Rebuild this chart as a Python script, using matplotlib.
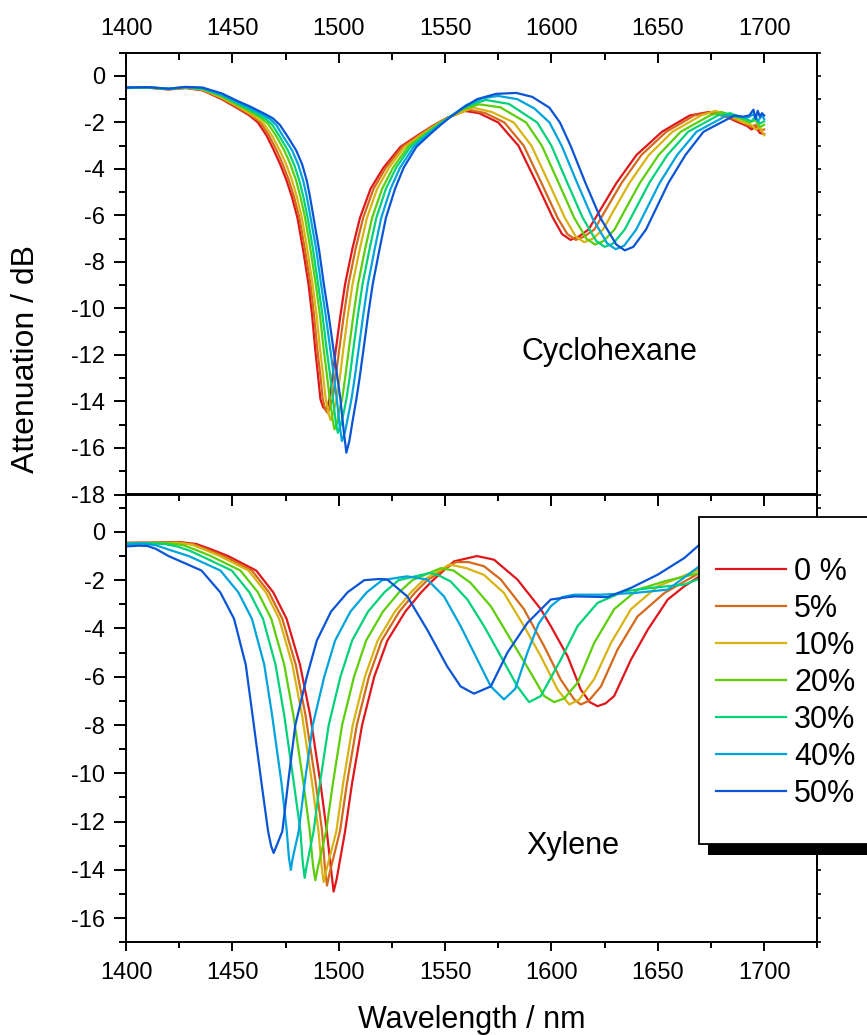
import matplotlib
matplotlib.use("Agg")
import matplotlib.pyplot as plt
from matplotlib.ticker import MultipleLocator
from matplotlib.lines import Line2D
from matplotlib.patches import Rectangle

plt.rcParams['font.family'] = ['Liberation Sans', 'DejaVu Sans']
plt.rcParams['axes.unicode_minus'] = False

labels = ['0 %', '5%', '10%', '20%', '30%', '40%', '50%']
colors = ['#e0161b', '#d4691c', '#d8b412', '#5ccf0a', '#00d27a', '#00a4dc', '#0a55d6']

# Cyclohexane panel: (wavelength nm, attenuation dB)
cyc_0 = [(1400,-0.52),(1410,-0.50),(1420,-0.58),(1428,-0.52),(1436,-0.62),(1445,-1.0),(1453,-1.42),(1458,-1.7),
         (1462,-2.0),(1466,-2.55),(1469.5,-3.2),(1472.5,-3.8),(1475.5,-4.5),(1478,-5.2),(1480.6,-6.1),(1483.3,-7.5),
         (1485.8,-8.95),(1487.5,-10.3),(1489,-11.8),(1490.3,-12.9),(1491.4,-13.9),
         (1492.7,-14.25),(1493.8,-14.35),(1494.8,-14.2),
         (1495.6,-13.9),(1497,-13.0),(1498.6,-11.8),(1500.8,-10.3),(1503,-8.95),(1506.5,-7.4),(1510,-6.1),(1515,-4.85),
         (1521,-3.95),(1529,-3.05),(1538,-2.5),(1545,-2.1),(1551,-1.8),
         (1559,-1.5),(1566,-1.6),
         (1575,-2.0),(1584.5,-3.0),(1593,-4.6),(1600.7,-6.1),
         (1605,-6.8),(1609,-7.05),(1613,-6.9),
         (1617.5,-6.6),(1622.7,-5.8),(1630.6,-4.6),(1640,-3.4),(1652,-2.4),(1665,-1.7),
         (1674,-1.55),(1682,-1.75),(1688,-2.0),(1692,-2.15),(1694,-2.3),(1696,-2.2),(1698,-2.45),(1700,-2.5)]

cyc_5 = [(1400,-0.52),(1410,-0.50),(1420,-0.57),(1428,-0.51),(1436,-0.60),(1445,-0.97),(1453,-1.38),(1458,-1.65),
         (1463.2,-2.0),(1467.1,-2.55),(1470.8,-3.2),(1473.7,-3.8),(1476.6,-4.5),(1479.0,-5.2),(1481.5,-6.1),(1484.2,-7.5),
         (1486.7,-8.95),(1488.4,-10.3),(1490.0,-11.8),(1491.4,-12.9),(1492.5,-13.9),
         (1493.7,-14.35),(1494.8,-14.5),(1496.0,-14.2),
         (1497.1,-13.9),(1498.5,-13.0),(1500.2,-11.8),(1502.4,-10.3),(1504.6,-8.95),(1508.0,-7.4),(1511.5,-6.1),
         (1516.4,-4.85),(1522.1,-3.95),(1529.9,-3.05),(1538.6,-2.5),(1545.4,-2.1),(1551.1,-1.8),
         (1561,-1.45),(1569,-1.6),
         (1577.9,-2.0),(1587.0,-3.0),(1595.3,-4.6),(1602.9,-6.1),
         (1607.5,-6.8),(1611.5,-7.05),(1615.5,-6.9),
         (1620.2,-6.6),(1625.3,-5.8),(1633.0,-4.6),(1642.3,-3.4),(1654.0,-2.4),(1667.1,-1.7),
         (1676,-1.55),(1684,-1.8),(1690,-2.0),(1694,-2.2),(1696,-2.1),(1698,-2.35),(1700,-2.3)]

cyc_10 = [(1400,-0.51),(1410,-0.49),(1420,-0.57),(1428,-0.50),(1436,-0.59),(1445,-0.93),(1453,-1.33),(1458,-1.6),
          (1461.5,-1.8),(1464.7,-2.05),(1468.5,-2.55),(1472.3,-3.2),(1475.3,-3.8),(1478.1,-4.5),(1480.3,-5.2),(1482.7,-6.1),(1485.3,-7.5),
          (1487.7,-8.95),(1489.6,-10.3),(1491.3,-11.8),(1492.7,-12.9),(1493.9,-13.9),
          (1495.2,-14.5),(1496.2,-14.8),(1497.4,-14.5),
          (1499.0,-13.9),(1500.5,-13.0),(1502.1,-11.8),(1504.3,-10.3),(1506.5,-8.95),(1510.0,-7.4),(1513.3,-6.1),
          (1518.1,-4.85),(1523.6,-3.95),(1531.0,-3.05),(1539.4,-2.5),(1545.8,-2.1),(1551.3,-1.8),
          (1563,-1.36),(1572,-1.55),
          (1582.3,-2.0),(1590.6,-3.0),(1598.8,-4.6),(1606.3,-6.1),
          (1611.4,-6.9),(1615.4,-7.15),(1619.4,-7.0),
          (1624.3,-6.6),(1629.2,-5.8),(1636.7,-4.6),(1645.8,-3.4),(1656.9,-2.4),(1670.3,-1.7),
          (1677,-1.5),(1684,-1.7),(1690,-2.0),(1694,-2.1),(1696,-2.3),(1698,-2.2),(1700,-2.55)]

cyc_20 = [(1400,-0.51),(1410,-0.49),(1420,-0.56),(1428,-0.49),(1436,-0.56),(1445,-0.88),(1453,-1.27),(1458,-1.51),
          (1462.5,-1.75),(1466.7,-2.05),(1470.4,-2.55),(1474.4,-3.2),(1477.3,-3.8),(1480.0,-4.5),(1482.0,-5.2),(1484.2,-6.1),(1486.8,-7.5),
          (1489.2,-8.95),(1491.2,-10.3),(1493.0,-11.8),(1494.5,-12.9),(1495.8,-13.9),
          (1497.0,-14.7),(1498.0,-15.2),(1499.3,-14.9),(1500.5,-14.3),
          (1501.6,-13.9),(1503.0,-13.0),(1504.7,-11.8),(1506.9,-10.3),(1509.1,-8.95),(1512.5,-7.4),(1515.7,-6.1),
          (1520.4,-4.85),(1525.5,-3.95),(1532.5,-3.05),(1540.4,-2.5),(1546.4,-2.1),(1551.5,-1.8),
          (1558,-1.45),(1566,-1.22),(1576,-1.35),
          (1588.1,-2.0),(1595.5,-3.0),(1603.4,-4.6),(1610.7,-6.1),
          (1616.5,-7.0),(1620.5,-7.25),(1624.5,-7.1),
          (1629.7,-6.6),(1634.4,-5.8),(1641.6,-4.6),(1650.4,-3.4),(1660.8,-2.4),(1674.5,-1.7),
          (1680,-1.55),(1688,-1.8),(1693,-2.0),(1696,-1.9),(1698,-2.2),(1700,-2.1)]

cyc_30 = [(1400,-0.50),(1410,-0.49),(1420,-0.56),(1428,-0.49),(1436,-0.55),(1445,-0.84),(1453,-1.22),(1458,-1.45),(1463,-1.7),
          (1466,-1.87),(1468.8,-2.1),(1471.9,-2.55),(1476.1,-3.2),(1479.0,-3.8),(1481.5,-4.5),(1483.4,-5.2),(1485.4,-6.1),(1488.0,-7.5),
          (1490.3,-8.95),(1492.4,-10.3),(1494.4,-11.8),(1496.0,-12.9),(1497.3,-13.9),
          (1498.5,-14.8),(1499.6,-15.35),(1501.0,-15.0),(1502.3,-14.5),
          (1503.6,-13.9),(1505.1,-13.0),(1506.8,-11.8),(1509.0,-10.3),(1511.2,-8.95),(1514.6,-7.4),(1517.7,-6.1),
          (1522.2,-4.85),(1527.0,-3.95),(1533.7,-3.05),(1541.2,-2.5),(1546.9,-2.1),(1551.6,-1.8),
          (1559,-1.35),(1569,-1.03),(1580,-1.2),
          (1593.3,-2.0),(1600.0,-3.0),(1607.5,-4.6),(1614.7,-6.1),
          (1621.1,-7.1),(1625.1,-7.35),(1629.1,-7.2),
          (1634.5,-6.6),(1639.1,-5.8),(1646.0,-4.6),(1654.5,-3.4),(1664.3,-2.4),(1678.2,-1.7),
          (1684,-1.6),(1690,-1.8),(1694,-1.95),(1696,-1.75),(1698,-2.05),(1700,-1.95)]

cyc_40 = [(1400,-0.50),(1410,-0.48),(1420,-0.55),(1428,-0.48),(1436,-0.52),(1445,-0.8),(1453,-1.16),(1458,-1.37),(1464,-1.65),
          (1467.5,-1.84),(1470.6,-2.1),(1473.9,-2.6),(1478.1,-3.2),(1480.9,-3.8),(1483.3,-4.5),(1485.0,-5.2),(1486.8,-6.1),(1489.5,-7.5),
          (1491.7,-8.95),(1493.9,-10.3),(1496.1,-11.8),(1497.7,-12.9),(1499.1,-13.9),
          (1500.4,-15.0),(1501.5,-15.7),(1503.0,-15.3),(1504.5,-14.6),
          (1506.0,-13.9),(1507.5,-13.0),(1509.3,-11.8),(1511.5,-10.3),(1513.7,-8.95),(1517.0,-7.4),(1520.0,-6.1),
          (1524.4,-4.85),(1528.8,-3.95),(1535.2,-3.05),(1542.1,-2.5),(1547.5,-2.1),(1551.8,-1.8),
          (1560,-1.25),(1568,-0.95),(1575,-0.86),(1584,-1.0),(1592,-1.4),
          (1599.1,-2.0),(1604.8,-3.0),(1612.1,-4.6),(1619.2,-6.1),
          (1626.2,-7.2),(1630.2,-7.45),(1634.2,-7.3),
          (1639.9,-6.6),(1644.3,-5.8),(1650.9,-4.6),(1659.1,-3.4),(1668.2,-2.4),(1682.4,-1.7),
          (1688,-1.75),(1692,-1.8),(1695,-1.65),(1697,-1.95),(1699,-1.7),(1700,-1.85)]

cyc_50 = [(1400,-0.50),(1410,-0.48),(1420,-0.55),(1428,-0.47),(1436,-0.50),(1445,-0.75),(1453,-1.1),(1458,-1.3),(1465,-1.62),
          (1469,-1.82),(1472.3,-2.1),(1475.6,-2.55),(1480,-3.2),(1482.8,-3.8),(1485,-4.5),(1486.5,-5.2),(1488.2,-6.1),(1490.8,-7.5),
          (1493,-8.95),(1495.3,-10.3),(1497.6,-11.8),(1499.3,-12.9),(1500.8,-13.9),
          (1502.4,-15.3),(1503.6,-16.2),(1505.0,-15.7),(1506.6,-14.8),
          (1508.3,-13.9),(1509.8,-13.0),(1511.6,-11.8),(1513.8,-10.3),(1516,-8.95),(1519.3,-7.4),(1522.2,-6.1),
          (1526.5,-4.85),(1530.5,-3.95),(1536.5,-3.05),(1543,-2.5),(1548,-2.1),(1552,-1.8),
          (1558,-1.4),(1565,-1.0),(1574,-0.77),(1583.5,-0.73),(1591,-0.9),(1599,-1.36),
          (1604,-2.0),(1609,-3.0),(1616,-4.6),(1623,-6.1),
          (1630.5,-7.25),(1634.5,-7.5),(1638.5,-7.35),
          (1644.5,-6.6),(1648.7,-5.8),(1655,-4.6),(1663,-3.4),(1671.5,-2.4),(1686,-1.7),
          (1690,-1.75),(1693,-1.7),(1695,-1.45),(1696,-1.85),(1697,-1.5),(1698,-1.75),(1699,-1.6),(1700,-1.7)]

# Xylene panel
xyl_0 = [(1400,-0.45),(1412,-0.44),(1425,-0.42),(1433,-0.5),(1440,-0.72),
         (1448,-1.0),(1461.2,-1.6),(1469.2,-2.5),(1475.5,-3.6),(1481.8,-5.5),(1486.6,-7.6),(1491.4,-10.4),(1494.4,-12.4),
         (1496.3,-13.9),(1497.6,-14.9),(1499.0,-14.4),
         (1503.0,-12.4),(1506.3,-10.4),(1511.0,-8.0),(1516.7,-6.0),(1522.9,-4.5),(1531.3,-3.3),(1538.8,-2.5),(1544.3,-2.0),
         (1554.2,-1.22),(1565,-1.0),(1573,-1.15),(1584,-1.97),(1595,-3.2),(1599.7,-3.9),(1607.6,-5.15),(1613.8,-6.53),
         (1618,-7.05),(1621.7,-7.22),(1625.5,-7.1),(1629.5,-6.8),(1637.4,-5.29),(1645.3,-4.05),(1654.7,-2.8),
         (1662.5,-2.25),(1669.6,-1.84),(1680,-1.35),(1690,-0.95),(1700,-0.7)]

xyl_5 = [(1400,-0.46),(1412,-0.45),(1425,-0.44),(1432,-0.52),(1438,-0.72),
         (1445.8,-1.0),(1459.2,-1.6),(1467.2,-2.5),(1473.5,-3.6),(1479.8,-5.5),(1484.4,-7.6),(1489.2,-10.4),(1492.2,-12.4),
         (1493.5,-13.9),(1494.5,-14.65),(1495.8,-14.1),
         (1500.6,-12.4),(1503.9,-10.4),(1508.5,-8.0),(1514.2,-6.0),(1520.2,-4.5),(1528.5,-3.3),(1536.0,-2.5),(1541.7,-2.0),
         (1555,-1.25),(1561,-1.25),(1568.3,-1.42),(1576.2,-1.97),(1587.1,-3.2),(1596.6,-4.74),(1604.4,-6.12),
         (1610.7,-6.94),(1613.8,-7.15),(1617.5,-7.0),(1623.3,-6.4),(1631.1,-4.87),(1640.5,-3.5),(1653.1,-2.53),
         (1669.6,-1.7),(1680,-1.25),(1690,-0.9),(1700,-0.7)]

xyl_10 = [(1400,-0.46),(1412,-0.45),(1424,-0.45),(1431,-0.53),(1437,-0.74),
          (1444.1,-1.0),(1457.6,-1.6),(1465.7,-2.5),(1472.0,-3.6),(1478.2,-5.5),(1482.8,-7.6),(1487.5,-10.4),(1490.5,-12.4),
          (1491.9,-13.8),(1492.9,-14.5),(1494.2,-14.0),
          (1498.9,-12.4),(1502.1,-10.4),(1506.6,-8.0),(1512.3,-6.0),(1518.3,-4.5),(1526.4,-3.3),(1534.0,-2.5),(1539.8,-2.0),
          (1552,-1.35),(1560,-1.5),(1568.3,-1.78),(1577.7,-2.53),(1587.1,-3.9),(1595,-5.15),(1602.9,-6.53),
          (1608.4,-7.15),(1613,-6.95),(1620.1,-6.1),(1628,-4.6),(1637.4,-3.2),(1650,-2.25),(1669.6,-1.56),
          (1680,-1.15),(1690,-0.85),(1700,-0.65)]

xyl_20 = [(1400,-0.47),(1412,-0.46),(1420,-0.47),(1427,-0.55),(1433,-0.75),
          (1439.9,-1.0),(1453.8,-1.6),(1462.0,-2.5),(1468.3,-3.6),(1474.4,-5.5),(1478.7,-7.6),(1483.4,-10.4),(1486.4,-12.4),
          (1487.9,-13.8),(1489.0,-14.43),(1490.2,-13.9),
          (1494.1,-12.4),(1497.3,-10.4),(1501.6,-8.0),(1507.2,-6.0),(1512.9,-4.5),(1520.8,-3.3),(1528.4,-2.5),(1534.6,-2.0),
          (1548,-1.5),(1554,-1.6),(1562,-2.11),(1571.5,-3.08),(1580.9,-4.46),(1590.3,-5.84),(1596.6,-6.8),
          (1601.3,-7.05),(1606,-6.9),(1612.3,-6.25),(1620.1,-4.6),(1629.5,-3.2),(1640.5,-2.39),(1653.1,-2.05),
          (1669.6,-1.7),(1680,-1.3),(1690,-1.0),(1700,-0.8)]

xyl_30 = [(1400,-0.48),(1410,-0.47),(1418,-0.5),(1424,-0.6),(1430,-0.78),
          (1435.4,-1.0),(1449.7,-1.6),(1458.0,-2.5),(1464.4,-3.6),(1470.3,-5.5),(1474.4,-7.6),(1478.9,-10.4),(1482.0,-12.4),
          (1483.0,-13.6),(1484.0,-14.33),(1485.0,-13.8),
          (1488.2,-12.4),(1491.2,-10.4),(1495.3,-8.0),(1500.8,-6.0),(1506.3,-4.5),(1513.8,-3.3),(1521.5,-2.5),(1528.1,-2.0),
          (1543,-1.7),(1547,-1.8),(1552.6,-2.05),(1560.5,-2.8),(1568.3,-3.9),(1576.2,-5.15),(1584,-6.4),
          (1589.5,-7.05),(1595,-6.8),(1604.4,-5.29),(1612.3,-3.9),(1621.7,-2.94),(1634.3,-2.46),(1646.8,-2.32),
          (1662.5,-2.18),(1669.6,-1.94),(1680,-1.6),(1690,-1.2),(1700,-1.0)]

xyl_40 = [(1400,-0.5),(1408,-0.48),(1414,-0.55),(1420,-0.73),
          (1429.5,-1.0),(1444.4,-1.6),(1452.8,-2.5),(1459.2,-3.6),(1465.0,-5.5),(1468.7,-7.6),(1473.1,-10.4),(1475.6,-12.4),
          (1476.6,-13.5),(1477.5,-14.0),(1478.4,-13.5),
          (1481.2,-12.4),(1484.0,-10.4),(1487.8,-8.0),(1493.2,-6.0),(1498.3,-4.5),(1505.5,-3.3),(1513.2,-2.5),(1520.4,-2.0),
          (1532,-1.84),(1541.6,-1.97),(1549.5,-2.67),(1557.3,-3.9),(1565.2,-5.29),(1571.5,-6.4),(1577.7,-6.94),
          (1583,-6.5),(1588.7,-5.0),(1594,-3.8),(1599.7,-3.08),(1605,-2.7),(1610.7,-2.6),(1623.3,-2.6),(1639,-2.53),
          (1654.7,-2.39),(1669.6,-1.42),(1680,-1.0),(1690,-0.6),(1700,-0.4)]

xyl_50 = [(1400,-0.6),(1406,-0.57),(1410,-0.58),(1414,-0.7),
          (1420,-1.0),(1435.5,-1.6),(1444.3,-2.5),(1450.8,-3.6),(1456.3,-5.5),(1459.5,-7.6),(1463.7,-10.4),(1466.8,-12.4),
          (1468.2,-13.0),(1469.4,-13.3),(1470.8,-13.0),
          (1473.5,-12.4),(1476.2,-10.4),(1479.6,-8.0),(1485.0,-6.0),(1489.7,-4.5),(1496.4,-3.3),(1504.2,-2.5),(1512,-2.0),
          (1519,-1.95),(1522.8,-1.97),(1532.2,-2.67),(1541.6,-4.05),(1551,-5.57),(1557.3,-6.4),(1563.6,-6.7),
          (1571.5,-6.4),(1579.3,-5.0),(1588.7,-3.77),(1599.7,-2.8),(1610.7,-2.67),(1626.4,-2.7),(1637.4,-2.32),
          (1650,-1.77),(1662.5,-1.08),(1669.6,-0.53),(1680,-0.1),(1690,0.2),(1700,0.3)]

cyc_series = [cyc_0, cyc_5, cyc_10, cyc_20, cyc_30, cyc_40, cyc_50]
xyl_series = [xyl_0, xyl_5, xyl_10, xyl_20, xyl_30, xyl_40, xyl_50]

W, H = 867, 1035
fig = plt.figure(figsize=(W / 100, H / 100), dpi=100)

left, right = 126, 817.3
top1, mid, bot2 = 52.7, 494.5, 942.3
ax1 = fig.add_axes([left / W, 1 - mid / H, (right - left) / W, (mid - top1) / H])
ax2 = fig.add_axes([left / W, 1 - bot2 / H, (right - left) / W, (bot2 - mid) / H])

LW = 1.6
for pts, c in zip(cyc_series, colors):
    x, y = zip(*pts)
    ax1.plot(x, y, color=c, lw=LW)
for pts, c in zip(xyl_series, colors):
    x, y = zip(*pts)
    ax2.plot(x, y, color=c, lw=LW)

ax1.set_xlim(1400, 1725)
ax2.set_xlim(1400, 1725)
ax1.set_ylim(-18, 1)
ax2.set_ylim(-17, 1.55)

SW = 1.4
for ax in (ax1, ax2):
    ax.xaxis.set_major_locator(MultipleLocator(50))
    ax.xaxis.set_minor_locator(MultipleLocator(25))
    ax.yaxis.set_major_locator(MultipleLocator(2))
    ax.yaxis.set_minor_locator(MultipleLocator(1))
    for s in ax.spines.values():
        s.set_linewidth(SW)
    ax.tick_params(axis='y', which='both', left=True, right=False, direction='out',
                   width=SW, labelsize=17, pad=6.5)
    ax.tick_params(axis='y', which='major', length=8.5)
    ax.tick_params(axis='y', which='minor', length=5)
    # small outward ticks on right side
    sy = ax.secondary_yaxis('right')
    sy.yaxis.set_major_locator(MultipleLocator(2))
    sy.yaxis.set_minor_locator(MultipleLocator(1))
    sy.tick_params(which='both', direction='out', length=3, width=1.2, labelright=False)
    sy.spines['right'].set_linewidth(SW)

# top panel: ticks inward on top with labels
ax1.tick_params(axis='x', which='both', bottom=False, labelbottom=False, top=True, labeltop=True,
                direction='in', width=SW, labelsize=17, pad=9)
ax1.tick_params(axis='x', which='major', length=7.5)
ax1.tick_params(axis='x', which='minor', length=5)

# bottom panel: outward ticks at bottom, inward ticks at the shared boundary
ax2.tick_params(axis='x', which='both', bottom=True, labelbottom=True, top=False, labeltop=False,
                direction='out', width=SW, labelsize=17, pad=8)
ax2.tick_params(axis='x', which='major', length=6.5)
ax2.tick_params(axis='x', which='minor', length=4.5)
sx = ax2.secondary_xaxis('top')
sx.xaxis.set_major_locator(MultipleLocator(50))
sx.xaxis.set_minor_locator(MultipleLocator(25))
sx.tick_params(which='both', direction='in', width=SW, labeltop=False)
sx.tick_params(which='major', length=8.5)
sx.tick_params(which='minor', length=5)
sx.spines['top'].set_linewidth(SW)

ax1.text(1586, -12.2, 'Cyclohexane', fontsize=22, ha='left', va='baseline')
ax2.text(1588, -13.35, 'Xylene', fontsize=22, ha='left', va='baseline')

fig.text(26 / W, 1 - 359 / H, 'Attenuation / dB', rotation=90, fontsize=23, ha='center', va='center')
fig.text(471.5 / W, 1 - 1020 / H, 'Wavelength / nm', fontsize=22, ha='center', va='center')

# legend box with a black drop shadow
bx0, by0, by1 = 699.3, 517.3, 844.3
fig.add_artist(Rectangle(((bx0 + 9) / W, 1 - (by1 + 10.7) / H), 200 / W, (by1 - by0) / H,
                         transform=fig.transFigure, facecolor='black', edgecolor='none', zorder=9))
fig.add_artist(Rectangle((bx0 / W, 1 - by1 / H), 200 / W, (by1 - by0) / H,
                         transform=fig.transFigure, facecolor='white', edgecolor='black', lw=1.3, zorder=10))
for i, (lab, c) in enumerate(zip(labels, colors)):
    py = 569.3 + i * 37.0
    fig.add_artist(Line2D([716 / W, 786 / W], [1 - py / H, 1 - py / H], transform=fig.transFigure,
                          color=c, lw=LW, zorder=11))
    fig.text(794 / W, 1 - (py + 11) / H, lab, fontsize=22, ha='left', va='baseline', zorder=11)

fig.savefig('out.png', dpi=100)
